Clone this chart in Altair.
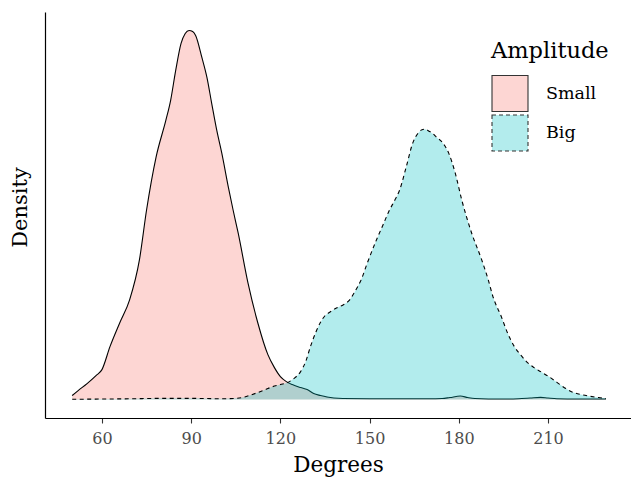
import altair as alt
import pandas as pd

# Density curves (degrees, density)
small_deg = [50.0, 52.0, 55.0, 58.0, 60.0, 62.7, 66.0, 69.3, 72.6, 75.0, 78.2, 81.5, 83.1,
             84.8, 86.6, 88.0, 89.3, 90.5, 91.5, 93.6, 95.3, 96.9, 98.6, 100.3, 102.5,
             104.1, 105.8, 109.1, 112.4, 115.8, 118.0, 120.0, 122.0, 124.0, 126.8, 129.0,
             131.2, 133.5, 135.7, 138.0, 141.0, 150.0, 160.0, 170.0, 174.4, 177.0, 180.5,
             183.0, 185.4, 190.0, 196.0, 200.0, 204.0, 207.5, 210.0, 213.0, 220.0, 229.5]
small_den = [0.0004, 0.0009, 0.0016, 0.0024, 0.0030, 0.0053, 0.0077, 0.0100, 0.0140,
             0.0190, 0.0243, 0.0280, 0.0300, 0.0330, 0.0357, 0.0367, 0.0370, 0.0369,
             0.0365, 0.0343, 0.0323, 0.0297, 0.0270, 0.0247, 0.0213, 0.0190, 0.0167,
             0.0117, 0.0077, 0.0045, 0.0032, 0.0023, 0.0018, 0.0015, 0.0012, 0.0010,
             0.0006, 0.0004, 0.00025, 0.00015, 0.0001, 0.00008, 0.00008, 0.00008, 0.0001,
             0.0002, 0.00035, 0.0002, 0.0001, 0.00006, 0.00006, 0.00008, 0.00015, 0.00022,
             0.00015, 0.00008, 0.00005, 0.00005]

big_deg = [50.0, 60.0, 70.0, 80.0, 90.0, 95.0, 100.0, 105.0, 108.0, 110.0, 112.4, 115.0,
           117.0, 120.0, 122.4, 124.5, 126.8, 128.5, 130.1, 132.0, 133.4, 135.0, 136.8,
           139.0, 141.2, 143.3, 145.0, 147.3, 149.0, 152.3, 154.5, 156.7, 158.5, 160.1,
           162.3, 164.5, 165.6, 166.6, 167.6, 168.6, 170.0, 171.1, 172.5, 174.4, 176.6,
           178.8, 181.0, 184.3, 187.7, 189.9, 191.5, 194.3, 196.5, 198.7, 201.0, 203.1,
           205.3, 207.5, 210.3, 213.1, 216.0, 218.6, 221.0, 224.1, 227.0, 229.5]
big_den = [0.00003, 0.00005, 0.00008, 0.00012, 0.00012, 0.0001, 0.00008, 0.00012, 0.00025,
           0.00045, 0.0007, 0.0010, 0.00125, 0.0015, 0.0017, 0.0021, 0.0028, 0.0038,
           0.0053, 0.0068, 0.0077, 0.0084, 0.0088, 0.0092, 0.0095, 0.0100, 0.0108,
           0.0121, 0.0135, 0.0160, 0.0175, 0.0190, 0.0200, 0.0210, 0.0233, 0.0257,
           0.0264, 0.0268, 0.02705, 0.0271, 0.0269, 0.0267, 0.0263, 0.0258, 0.0247,
           0.0227, 0.0200, 0.0167, 0.0140, 0.0120, 0.0103, 0.0083, 0.0066, 0.0053,
           0.0044, 0.0037, 0.0032, 0.0028, 0.0023, 0.0017, 0.0011, 0.0007, 0.0005,
           0.00033, 0.0002, 0.0001]

tick_values = [60, 90, 120, 150, 180, 210]

df = pd.concat([
    pd.DataFrame({"Degrees": small_deg, "Density": small_den, "Amplitude": "Small"}),
    pd.DataFrame({"Degrees": big_deg, "Density": big_den, "Amplitude": "Big"}),
], ignore_index=True)

FONT = "DejaVu Serif"

x = alt.X("Degrees:Q",
          scale=alt.Scale(domain=[40.85, 237.9], nice=False, zero=False),
          axis=alt.Axis(values=tick_values, title="Degrees", grid=False,
                        domainColor="black", domainWidth=1.2,
                        tickColor="#333333", tickWidth=1.1, tickSize=5,
                        labelColor="#4D4D4D", labelFont=FONT, labelFontSize=16,
                        labelPadding=7, titleFont=FONT, titleFontSize=21.5,
                        titleFontWeight="normal", titleColor="black", titlePadding=8))
y = alt.Y("Density:Q",
          scale=alt.Scale(domain=[-0.00185, 0.03885], nice=False, zero=False),
          axis=alt.Axis(labels=False, ticks=False, title="Density", grid=False,
                        domainColor="black", domainWidth=1.2,
                        titleFont=FONT, titleFontSize=21, titleFontWeight="normal",
                        titleColor="black", titlePadding=15, titleY=195),
          stack=None)

base = alt.Chart(df)
small = base.transform_filter(alt.datum.Amplitude == "Small")
big = base.transform_filter(alt.datum.Amplitude == "Big")

small_area = small.mark_area(color="#F8766D", fillOpacity=0.3, interpolate="monotone").encode(x=x, y=y)
small_line = small.mark_line(color="black", strokeWidth=1.1, interpolate="monotone").encode(x=x, y=y)
big_area = big.mark_area(color="#00BFC4", fillOpacity=0.3, interpolate="monotone").encode(x=x, y=y)
big_line = big.mark_line(color="black", strokeWidth=1.1, strokeDash=[4, 3.5],
                         interpolate="monotone").encode(x=x, y=y)

common = dict(orient="none", legendX=446, symbolType="square", symbolSize=1296,
              symbolOpacity=1, symbolStrokeColor="#333333", symbolStrokeWidth=1.1,
              labelFont=FONT, labelFontSize=17.5, labelColor="black",
              labelOffset=17, padding=0)

leg_small = alt.Legend(title="Amplitude", legendY=28,
                       titleFont=FONT, titleFontSize=22.5, titleFontWeight="normal",
                       titleColor="black", titlePadding=12, **common)
leg_big = alt.Legend(title=None, legendY=102, symbolDash=[4, 3], **common)

legend_small = small.mark_area(opacity=0).encode(
    x=x, y=y,
    fill=alt.Fill("Amplitude:N",
                  scale=alt.Scale(domain=["Small"], range=["#FDD6D3"]),
                  legend=leg_small),
)
legend_big = big.mark_area(opacity=0).encode(
    x=x, y=y,
    color=alt.Color("Amplitude:N",
                    scale=alt.Scale(domain=["Big"], range=["#B3ECED"]),
                    legend=leg_big),
)

chart = alt.layer(small_area, small_line, big_area, big_line,
                  legend_small, legend_big).properties(
    width=586, height=406,
    background="white",
    autosize=alt.AutoSizeParams(type="none"),
    padding={"left": 37, "top": 4, "right": 0, "bottom": 60},
).configure_view(strokeWidth=0, stroke="transparent")

chart.save("out.html", embed_options={"renderer": "svg", "actions": False})
